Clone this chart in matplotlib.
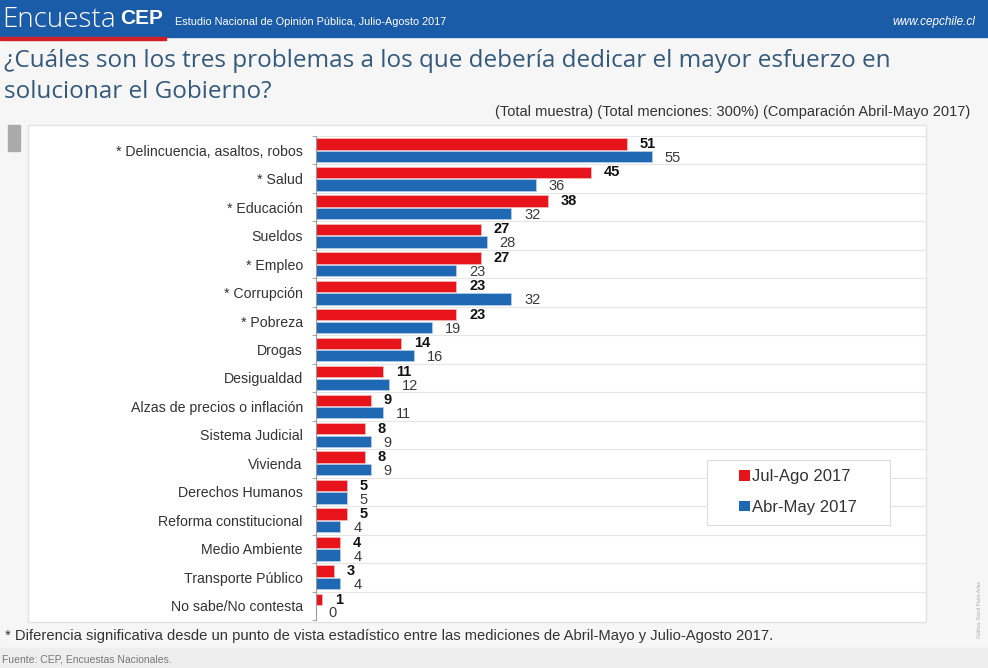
import matplotlib
matplotlib.use("Agg")
import matplotlib.pyplot as plt
from matplotlib.patches import Rectangle, Patch
import numpy as np

categories = ["* Delincuencia, asaltos, robos", "* Salud", "* Educación", "Sueldos",
              "* Empleo", "* Corrupción", "* Pobreza", "Drogas", "Desigualdad",
              "Alzas de precios o inflación", "Sistema Judicial", "Vivienda",
              "Derechos Humanos", "Reforma constitucional", "Medio Ambiente",
              "Transporte Público", "No sabe/No contesta"]
jul_ago = [51, 45, 38, 27, 27, 23, 23, 14, 11, 9, 8, 8, 5, 5, 4, 3, 1]
abr_may = [55, 36, 32, 28, 23, 32, 19, 16, 12, 11, 9, 9, 5, 4, 4, 4, 0]
series_names = ["Jul-Ago 2017", "Abr-May 2017"]

RED = "#e8141c"
BLUE = "#1f68b3"
W, H = 988, 668

def fx(x):
    return x / W

def fy(y):
    return 1 - y / H

fig = plt.figure(figsize=(9.88, 6.68), dpi=100, facecolor="#f6f6f6")

# header band
fig.patches.append(Rectangle((0, fy(37)), 1, 37 / H, transform=fig.transFigure,
                             color="#1b5ca8", zorder=-5))
fig.patches.append(Rectangle((0, fy(40)), fx(166), 3 / H, transform=fig.transFigure,
                             color="#d21f26", zorder=-4))
fig.text(fx(2), fy(20), "Encuesta", color="white", fontsize=20, family="Open Sans",
         ha="left", va="center", fontweight="light")
fig.text(fx(120), fy(19), "CEP", color="white", fontsize=15, family="Liberation Sans",
         ha="left", va="center", fontweight="bold")
fig.text(fx(175), fy(22), "Estudio Nacional de Opinión Pública, Julio-Agosto 2017",
         color="white", fontsize=7.8, family=["Liberation Sans Narrow", "Liberation Sans"],
         ha="left", va="center")
fig.text(fx(975), fy(22), "www.cepchile.cl", color="white", fontsize=8.5,
         family="Liberation Sans", style="italic", ha="right", va="center")

# title
TITLE_C = "#34597a"
fig.text(fx(4), fy(61), "¿Cuáles son los tres problemas a los que debería dedicar el mayor esfuerzo en",
         color=TITLE_C, fontsize=17.5, family="Open Sans", ha="left", va="center")
fig.text(fx(4), fy(92), "solucionar el Gobierno?",
         color=TITLE_C, fontsize=17.5, family="Open Sans", ha="left", va="center")
fig.text(fx(970), fy(112), "(Total muestra) (Total menciones: 300%) (Comparación Abril-Mayo 2017)",
         color="#333333", fontsize=10.5, family="Liberation Sans", ha="right", va="center")

# panel
fig.patches.append(Rectangle((fx(28), fy(622)), fx(926) - fx(28), (622 - 125) / H,
                             transform=fig.transFigure, facecolor="white",
                             edgecolor="#e2e2e2", lw=1, zorder=-5))
fig.patches.append(Rectangle((fx(8), fy(151)), fx(12), 26 / H,
                             transform=fig.transFigure, color="#aaaaaa", zorder=-4))
fig.patches.append(Rectangle((0, 0), 1, 20 / H, transform=fig.transFigure,
                             color="#eeeeee", zorder=-5))

ax = fig.add_axes([fx(316), fy(620), fx(926) - fx(316), (620 - 136) / H])
ax.set_zorder(5)
ax.set_facecolor("none")
n = len(categories)
y = np.arange(n)
bh = 0.40
off = 0.22
ax.barh(y - off, jul_ago, height=bh, color=RED, edgecolor="#f4c0c0", lw=0.5, label=series_names[0])
ax.barh(y + off, abr_may, height=bh, color=BLUE, edgecolor="#b8d0ea", lw=0.5, label=series_names[1])
ax.set_xlim(0, 100)
ax.set_ylim(n - 0.5, -0.5)

for i in range(n):
    ax.text(jul_ago[i] + 2.1, i - off, str(jul_ago[i]), ha="left", va="center",
            fontsize=10.5, fontweight="bold", color="#111111", family="Liberation Sans")
    ax.text(abr_may[i] + 2.1, i + off + 0.05, str(abr_may[i]), ha="left", va="center",
            fontsize=10.5, color="#3a3a3a", family="Liberation Sans")

for b in np.arange(-0.5, n, 1.0):
    ax.axhline(b, color="#e6e6e6", lw=0.8, zorder=0)

ax.set_yticks(y)
ax.set_yticklabels(categories, fontsize=10.2, color="#333333", family="Liberation Sans")
ax.tick_params(axis="y", length=0, pad=9.5)
ax.set_yticks(np.arange(-0.5, n, 1.0), minor=True)
ax.tick_params(axis="y", which="minor", length=3, color="#999999")
ax.set_xticks([])
for s in ["top", "right", "bottom"]:
    ax.spines[s].set_visible(False)
ax.spines["left"].set_color("#999999")
ax.spines["left"].set_linewidth(0.8)

# legend box
box = Rectangle((fx(707), fy(525)), fx(890) - fx(707), 65 / H,
                transform=fig.transFigure, facecolor="white",
                edgecolor="#dddddd", lw=0.8, zorder=10, clip_on=False)
ax.add_patch(box)
handles = [Patch(facecolor=RED, label=series_names[0]),
           Patch(facecolor=BLUE, label=series_names[1])]
leg = ax.legend(handles=handles, loc="center",
                bbox_to_anchor=(fx(798), fy(492)), bbox_transform=fig.transFigure,
                frameon=False,
                prop={"family": "Liberation Sans", "size": 12},
                handlelength=0.65, handleheight=0.6, handletextpad=0.15,
                labelspacing=0.95, borderpad=0, labelcolor="#333333",
                borderaxespad=0)
leg.set_zorder(20)

fig.text(fx(5), fy(636), "* Diferencia significativa desde un punto de vista estadístico entre las mediciones de Abril-Mayo y Julio-Agosto 2017.",
         color="#333333", fontsize=10.6, family="Liberation Sans", ha="left", va="center")
fig.text(fx(2), fy(660), "Fuente: CEP, Encuestas Nacionales.", color="#777777", fontsize=7.5,
         family="Liberation Sans", ha="left", va="center")
fig.text(fx(979), fy(610), "Gráfica: David Parra Arias", color="#aaaaaa", fontsize=3.5,
         family="Liberation Sans", rotation=90, ha="center", va="center")

fig.savefig("out.png", dpi=100, facecolor=fig.get_facecolor())
